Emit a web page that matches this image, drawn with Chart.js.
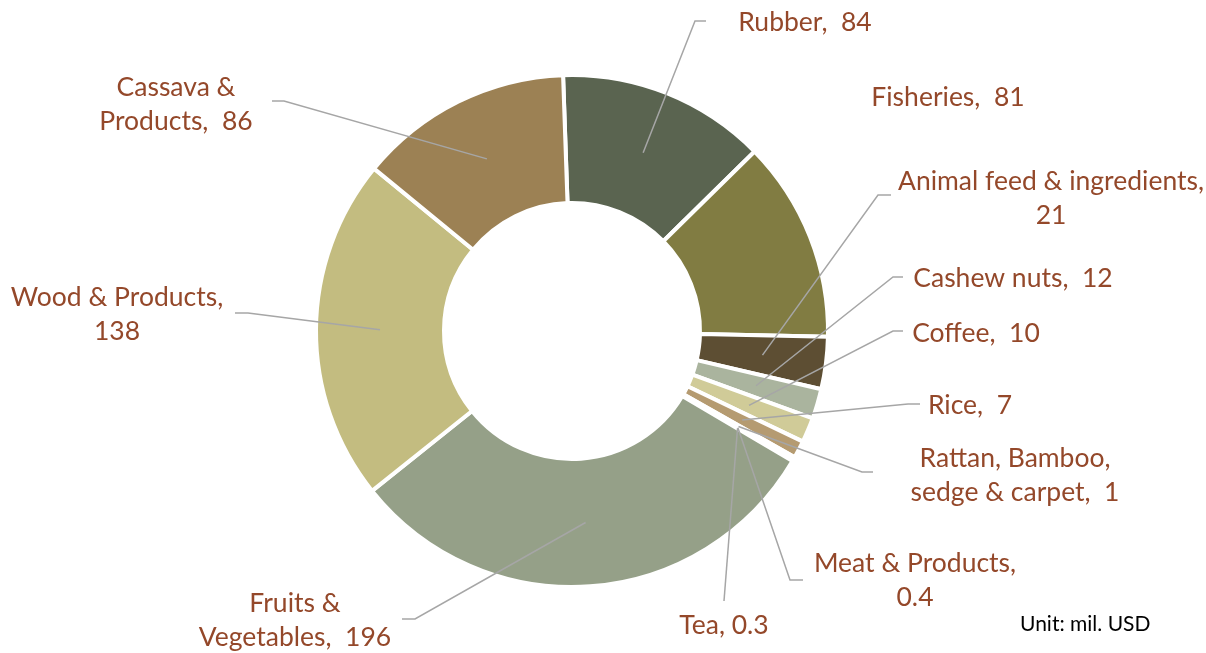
<!DOCTYPE html>
<html>
<head>
<meta charset="utf-8">
<title>Export structure</title>
<script src="https://cdn.jsdelivr.net/npm/chart.js@4.4.1/dist/chart.umd.min.js"></script>
<style>
  html, body { margin: 0; padding: 0; background: #ffffff; }
  #wrap { width: 1206px; height: 653px; position: relative; }
</style>
</head>
<body>
<div id="wrap"><canvas id="myChart"></canvas></div>
<script>
// categories in drawing order (clockwise from top)
const categories = ['Rubber', 'Fisheries', 'Animal feed & ingredients', 'Cashew nuts', 'Coffee', 'Rice',
    'Rattan, Bamboo, sedge & carpet', 'Meat & Products', 'Tea', 'Fruits & Vegetables', 'Wood & Products', 'Cassava & Products']
const values = [84, 81, 21, 12, 10, 7, 1, 0.4, 0.3, 196, 138, 86]
// text of each data label, broken into lines the way the original shows them
const labelText = [
    ['Rubber,  84'],
    ['Fisheries,  81'],
    ['Animal feed & ingredients,', '21'],
    ['Cashew nuts,  12'],
    ['Coffee,  10'],
    ['Rice,  7'],
    ['Rattan, Bamboo,', 'sedge & carpet,  1'],
    ['Meat & Products,', '0.4'],
    ['Tea, 0.3'],
    ['Fruits &', 'Vegetables,  196'],
    ['Wood & Products,', '138'],
    ['Cassava &', 'Products,  86']
]
const unitText = 'Unit: mil. USD'

const colors = ['#5a6450', '#817c42', '#5d4e33', '#aab49e', '#d0cb98', '#b59b71',
    '#b59b71', '#b59b71', '#b59b71', '#95a088', '#c3bc80', '#9c8154']

// where each label sits (center of first line) and where its leader line bends / ends
const labelLayout = [
    { x: 805, y: 22, elbow: [695, 21], end: [706, 21] },
    { x: 948, y: 97 },
    { x: 1051, y: 181, elbow: [878, 195], end: [891, 195] },
    { x: 1013, y: 278, elbow: [893, 277], end: [903, 277] },
    { x: 976, y: 333, elbow: [893, 331], end: [903, 331] },
    { x: 970, y: 405, elbow: [908, 404], end: [920, 404] },
    { x: 1015, y: 458, elbow: [862, 472], end: [873, 472] },
    { x: 915, y: 563, elbow: [790, 580], end: [803, 580] },
    { x: 724, y: 625, end: [724, 601] },
    { x: 295, y: 603, elbow: [415, 619], end: [402, 619] },
    { x: 117, y: 297, elbow: [248, 313], end: [235, 313] },
    { x: 176, y: 87, elbow: [284, 101], end: [272, 101] }
]

const labelFont = '26.5px Lato, "Open Sans", sans-serif'
const lineGap = 34

const labelPlugin = {
    id: 'outerLabels',
    afterDatasetsDraw(chart) {
        const ctx = chart.ctx
        const meta = chart.getDatasetMeta(0)
        ctx.save()
        ctx.strokeStyle = '#a6a6a6'
        ctx.lineWidth = 1.5
        meta.data.forEach((arc, i) => {
            const lay = labelLayout[i]
            if (!lay.end) return
            const p = arc.tooltipPosition()
            ctx.beginPath()
            ctx.moveTo(p.x, p.y)
            if (lay.elbow) ctx.lineTo(lay.elbow[0], lay.elbow[1])
            ctx.lineTo(lay.end[0], lay.end[1])
            ctx.stroke()
        })
        ctx.font = labelFont
        ctx.fillStyle = '#94482a'
        ctx.textAlign = 'center'
        ctx.textBaseline = 'middle'
        labelText.forEach((lines, i) => {
            const lay = labelLayout[i]
            lines.forEach((t, k) => {
                ctx.fillText(t, lay.x, lay.y + k * lineGap)
            })
        })
        ctx.font = '21px Lato, "Open Sans", sans-serif'
        ctx.fillStyle = '#000000'
        ctx.textAlign = 'left'
        ctx.fillText(unitText, 1020, 624)
        ctx.restore()
    }
}

let ctx = document.getElementById('myChart').getContext('2d')
let myChart = new Chart(ctx, {
    type: 'doughnut',
    data: {
        labels: categories,
        datasets: [{
            data: values,
            backgroundColor: colors,
            borderColor: '#ffffff',
            borderWidth: 4
        }]
    },
    options: {
        responsive: true,
        maintainAspectRatio: false,
        animation: false,
        cutout: '50%',
        rotation: -2,
        layout: {
            padding: { left: 314, top: 73, right: 376, bottom: 64 }
        },
        plugins: {
            legend: { display: false },
            tooltip: { enabled: false }
        }
    },
    plugins: [labelPlugin]
})
</script>
</body>
</html>
